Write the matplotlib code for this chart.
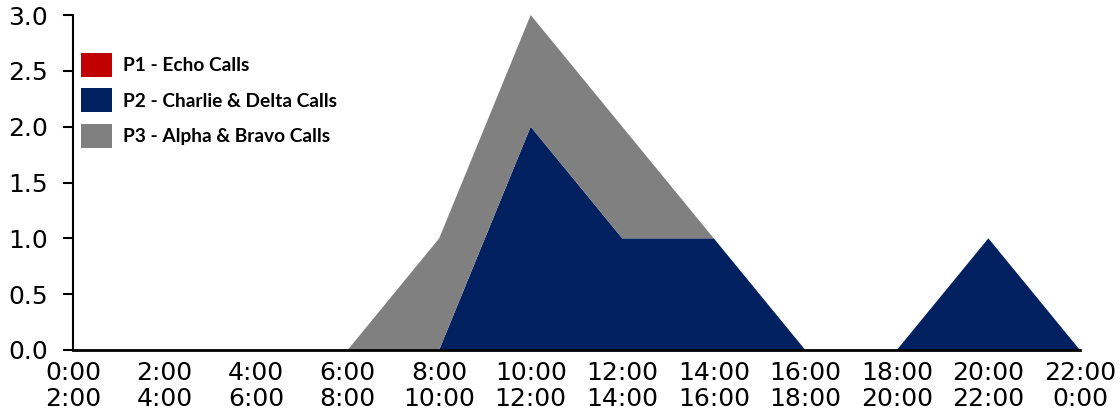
import matplotlib.pyplot as plt
import numpy as np

slots = ['0:00\n2:00', '2:00\n4:00', '4:00\n6:00', '6:00\n8:00', '8:00\n10:00',
         '10:00\n12:00', '12:00\n14:00', '14:00\n16:00', '16:00\n18:00',
         '18:00\n20:00', '20:00\n22:00', '22:00\n0:00']
p1_echo = [0, 0, 0, 0, 0, 0, 0, 0, 0, 0, 0, 0]
p2_charlie_delta = [0, 0, 0, 0, 0, 2, 1, 1, 0, 0, 1, 0]
p3_alpha_bravo = [0, 0, 0, 0, 1, 1, 1, 0, 0, 0, 0, 0]

labels = ['P1 - Echo Calls', 'P2 - Charlie & Delta Calls', 'P3 - Alpha & Bravo Calls']
colors = ['#C00000', '#002060', '#808080']

x = np.arange(len(slots))

fig = plt.figure(figsize=(11.2, 4.17), dpi=100)
ax = fig.add_axes([0.0652, 0.1607, 0.8990, 0.8033])

ax.stackplot(x, p1_echo, p2_charlie_delta, p3_alpha_bravo,
             colors=colors, labels=labels, linewidth=0)

ax.set_xlim(0, len(slots) - 1)
ax.set_ylim(0, 3)
yt = np.arange(0, 3.01, 0.5)
ax.set_yticks(yt)
ax.set_yticklabels([f'{v:.1f}' for v in yt], family='DejaVu Sans Condensed', fontsize=18)
ax.set_xticks(x)
ax.set_xticklabels(slots, family='DejaVu Sans Condensed', fontsize=18, linespacing=1.1)

ax.spines['top'].set_visible(False)
ax.spines['right'].set_visible(False)
ax.spines['left'].set_linewidth(1.5)
ax.spines['bottom'].set_linewidth(2)
ax.tick_params(axis='y', direction='out', length=7, width=1.5, pad=11)
ax.tick_params(axis='x', length=0, pad=8)

leg = ax.legend(loc='upper left', bbox_to_anchor=(0.008, 0.887), frameon=False,
                prop={'family': 'Lato', 'weight': 'bold', 'size': 13.8},
                handlelength=1.6, handleheight=1.55, handletextpad=0.6,
                labelspacing=0.6, borderaxespad=0, borderpad=0)

fig.savefig('out.png', dpi=100)
